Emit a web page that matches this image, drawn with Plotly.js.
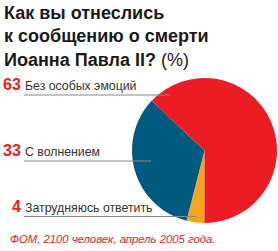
<!DOCTYPE html>
<html><head><meta charset="utf-8">
<script src="https://cdn.plot.ly/plotly-3.0.1.min.js"></script>
<style>html,body{margin:0;padding:0;background:#fff;}#chart{width:278px;height:251px;}</style>
</head><body><div id="chart"></div>
<script>
const categories = ["Затрудняюсь ответить", "С волнением", "Без особых эмоций"];
const values = [4, 33, 63];
const valueLabels = ["4", "33", "63"];
const colors = ["#F6A31E", "#005A80", "#EC1C24"];

const W = 278, H = 251;
const px = x => x / W;
const py = y => 1 - y / H;

// label rows (top to bottom): 63, 33, 4
const rowY = {"Без особых эмоций": 95, "С волнением": 161, "Затрудняюсь ответить": 216.5};
const lineEnd = {"Без особых эмоций": 170, "С волнением": 151, "Затрудняюсь ответить": 196};

const annotations = [];
const shapes = [];
categories.forEach((c, i) => {
  const y = rowY[c];
  const lab = valueLabels[i];
  const numX = 19.5 - lab.length * 9;
  annotations.push({xref:'paper', yref:'paper', x: px(numX), y: py(y - 1), xanchor:'left', yanchor:'bottom',
    text: '<b>' + lab + '</b>', showarrow:false, borderpad:0,
    font:{family:'Liberation Sans, Arial, sans-serif', size:16, color:'#EC1C24'}});
  annotations.push({xref:'paper', yref:'paper', x: px(24), y: py(y - 1), xanchor:'left', yanchor:'bottom',
    text: c, showarrow:false, borderpad:0,
    font:{family:'Liberation Sans, Arial, sans-serif', size:12.3, color:'#333'}});
  shapes.push({type:'line', xref:'paper', yref:'paper', x0: px(24), x1: px(lineEnd[c]), y0: py(y), y1: py(y),
    line:{color:'#888', width:1}, layer:'above'});
});

annotations.push({xref:'paper', yref:'paper', x: px(2), y: py(1), xanchor:'left', yanchor:'top', align:'left',
  text: '<b>Как вы отнеслись<br>к сообщению о смерти<br>Иоанна Павла II?</b> (%)', showarrow:false,
  font:{family:'Liberation Sans, Arial, sans-serif', size:18, color:'#1a1a1a'}});
annotations.push({xref:'paper', yref:'paper', x: px(8), y: py(239), xanchor:'left', yanchor:'middle',
  text: '<i>ФОМ, 2100 человек, апрель 2005 года.</i>', showarrow:false,
  font:{family:'Liberation Sans, Arial, sans-serif', size:11.3, color:'#EC1C24'}});

const data = [{
  type:'pie', labels: categories, values: values, sort:false, direction:'clockwise', rotation:180,
  marker:{colors: colors, line:{width:0}}, textinfo:'none', hoverinfo:'none', showlegend:false,
  domain:{x:[132/W, 277/W], y:[(H-223)/H, (H-78)/H]}
}];

Plotly.newPlot('chart', data, {
  width: W, height: H, margin:{l:0,r:0,t:0,b:0}, paper_bgcolor:'#fff',
  annotations: annotations, shapes: shapes, showlegend:false
}, {staticPlot:true});
</script></body></html>
